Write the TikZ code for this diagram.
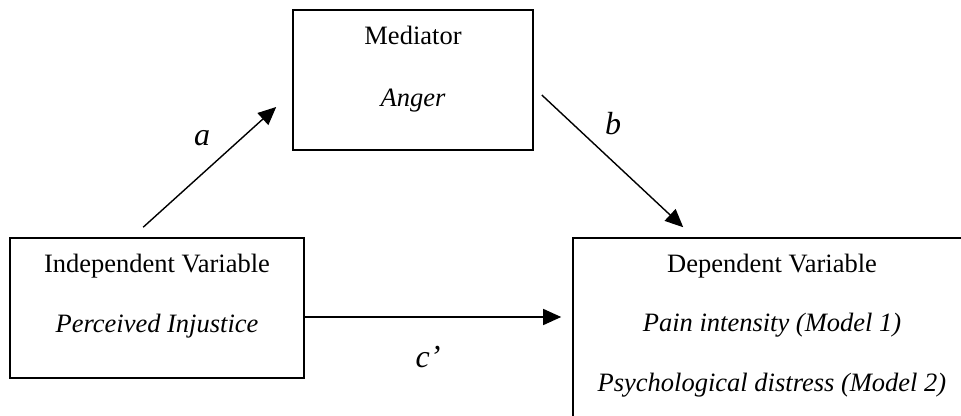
\documentclass[tikz,border=0pt]{standalone}
\usepackage{fontspec}
\setmainfont{Liberation Serif}
\usetikzlibrary{arrows.meta}
\begin{document}
\begin{tikzpicture}[x=1pt, y=-1pt,
  box/.style={draw, line width=1.6pt, inner sep=0pt},
  txt/.style={anchor=base, inner sep=0pt, font=\fontsize{26.5}{32}\selectfont},
  lab/.style={anchor=base, inner sep=0pt, font=\fontsize{32}{38}\selectfont\itshape},
  arr/.style={line width=1.4pt, -{Triangle[length=18pt,width=16pt]}}]
\useasboundingbox (0,0) rectangle (961,415);
% boxes
\node[box, minimum width=240pt, minimum height=140pt] (med) at (413,80) {};
\node[box, minimum width=294pt, minimum height=140pt] (iv) at (157,308) {};
\node[box, minimum width=398pt, minimum height=200pt] (dv) at (772,338) {};
% texts
\node[txt] (medname) at ([yshift=-35pt]med.north) {Mediator};
\node[txt] (medvar) at ([yshift=-97pt]med.north) {\itshape Anger};
\node[txt] (ivname) at ([yshift=-35pt]iv.north) {Independent Variable};
\node[txt] (ivvar) at ([yshift=-95pt]iv.north) {\itshape Perceived Injustice};
\node[txt] (dvname) at ([yshift=-35pt]dv.north) {Dependent Variable};
\node[txt] (dvpain) at ([yshift=-94pt]dv.north) {\itshape Pain intensity (Model 1)};
\node[txt] (dvdist) at ([yshift=-154pt]dv.north) {\itshape Psychological distress (Model 2)};
% paths
\draw[arr] ([xshift=134pt,yshift=10pt]iv.north west) -- ([xshift=-16pt,yshift=-27pt]med.west);
\draw[arr] ([xshift=8pt,yshift=-15pt]med.east) -- ([xshift=111pt,yshift=10pt]dv.north west);
\coordinate (cstart) at ([yshift=-9pt]iv.east);
\draw[arr, shorten >=11pt] (cstart) -- (cstart -| dv.west);
\node[lab] (alab) at (202,145) {a};
\node[lab] (blab) at (613,134) {b};
\node[lab] (clab) at (428,367) {c’};
\end{tikzpicture}
\end{document}
